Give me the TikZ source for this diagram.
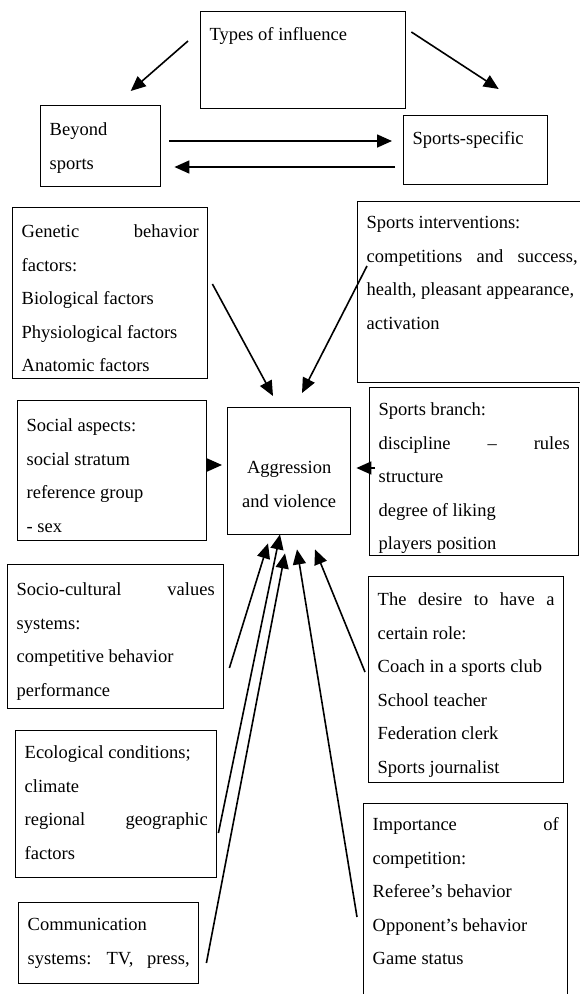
\documentclass[tikz,border=0pt]{standalone}
\usepackage{fontspec}
\setmainfont{Liberation Serif}
\usetikzlibrary{arrows.meta}

% text block of a box: width, height, lines (first line lowered by the strut)
\newcommand{\boxtxt}[4][29pt]{\parbox[c][#3][t]{#2}{\fontsize{18.5pt}{33.5pt}\selectfont\rule{0pt}{#1}#4}}

\tikzset{
  infobox/.style={draw, line width=1.4pt, inner xsep=9pt, inner ysep=0pt, anchor=north west},
  infl/.style={-{Triangle[length=15pt, width=13pt]}, line width=1.6pt}
}

\begin{document}
\begin{tikzpicture}[x=1pt, y=-1pt]
  \useasboundingbox (0, 0) rectangle (580, 994);

  % types of influence
  \node[infobox] (types) at (200, 11) {\boxtxt{187pt}{97pt}{Types of influence}};
  \node[infobox] (beyond) at (40, 105) {\boxtxt[30pt]{102pt}{81pt}{Beyond\\sports}};
  \node[infobox] (spspec) at (403, 115) {\boxtxt{126pt}{69pt}{Sports-specific}};

  \draw[infl] ([xshift=-12pt, yshift=-30pt]types.north west) to ([xshift=30pt, yshift=14pt]beyond.north);
  \draw[infl] ([xshift=5pt, yshift=-21pt]types.north east) to ([xshift=23pt, yshift=26pt]spspec.north);
  \draw[infl] ([xshift=8pt, yshift=-36pt]beyond.north east) to ([xshift=-11pt, yshift=-26pt]spspec.north west);
  \draw[infl] ([xshift=-8pt, yshift=-52pt]spspec.north west) to ([xshift=13pt, yshift=-62pt]beyond.north east);

  % centre
  \node[infobox] (aggr) at (227, 407) {\boxtxt[66pt]{105pt}{127pt}{\centering Aggression\\and violence}};

  % factors
  \node[infobox] (genetic) at (12, 207) {\boxtxt[30pt]{177pt}{171pt}{Genetic \hfill behavior\\factors:\\Biological factors\\Physiological factors\\Anatomic factors}};
  \node[infobox] (sint) at (357, 201) {\boxtxt[27pt]{211pt}{181pt}{Sports interventions:\\competitions \hfill and \hfill success,\\health, pleasant appearance,\\activation}};
  \node[infobox] (social) at (17, 400) {\boxtxt[31pt]{171pt}{140pt}{Social aspects:\\social stratum\\reference group\\- sex}};
  \node[infobox] (sbranch) at (369, 387) {\boxtxt[28pt]{191pt}{168pt}{Sports branch:\\discipline \hfill -- \hfill rules\\structure\\degree of liking\\players position}};
  \node[infobox] (socio) at (7, 564) {\boxtxt[31pt]{198pt}{144pt}{Socio-cultural \hfill values\\systems:\\competitive behavior\\performance}};
  \node[infobox] (desire) at (368, 576) {\boxtxt{177pt}{206pt}{The \hfill desire \hfill to \hfill have \hfill a\\certain role:\\Coach in a sports club\\School teacher\\Federation clerk\\Sports journalist}};
  \node[infobox] (ecol) at (15, 730) {\boxtxt[28pt]{183pt}{147pt}{Ecological conditions;\\climate\\regional \hfill geographic\\factors}};
  \node[infobox] (comm) at (18, 902) {\boxtxt[28pt]{162pt}{81pt}{Communication\\systems: \hfill TV, \hfill press,}};
  \node[infobox] (import) at (363, 803) {\boxtxt[27pt]{186pt}{200pt}{Importance \hfill of\\competition:\\Referee's behavior\\Opponent's behavior\\Game status}};

  \draw[infl] ([xshift=4pt, yshift=-77pt]genetic.north east) to ([xshift=46pt, yshift=11pt]aggr.north west);
  \draw[infl] ([xshift=10pt, yshift=-65pt]sint.north west) to ([xshift=75pt, yshift=14pt]aggr.north west);
  \draw[infl] ([yshift=-65pt]social.north east) to ([xshift=-5pt, yshift=-58pt]aggr.north west);
  \draw[infl] ([xshift=6pt, yshift=-81pt]sbranch.north west) to ([xshift=5pt, yshift=-61pt]aggr.north east);
  \draw[infl] ([xshift=5pt, yshift=-104pt]socio.north east) to ([xshift=41pt, yshift=-8pt]aggr.south west);
  \draw[infl] ([xshift=1pt, yshift=-103pt]ecol.north east) to ([xshift=53pt, yshift=1pt]aggr.south west);
  \draw[infl] ([xshift=7pt, yshift=-61pt]comm.north east) to ([xshift=58pt, yshift=-18pt]aggr.south west);
  \draw[infl] ([xshift=-6pt, yshift=-114pt]import.north west) to ([xshift=70pt, yshift=-14pt]aggr.south west);
  \draw[infl] ([xshift=-3pt, yshift=-96pt]desire.north west) to ([xshift=88pt, yshift=-14pt]aggr.south west);
\end{tikzpicture}
\end{document}
